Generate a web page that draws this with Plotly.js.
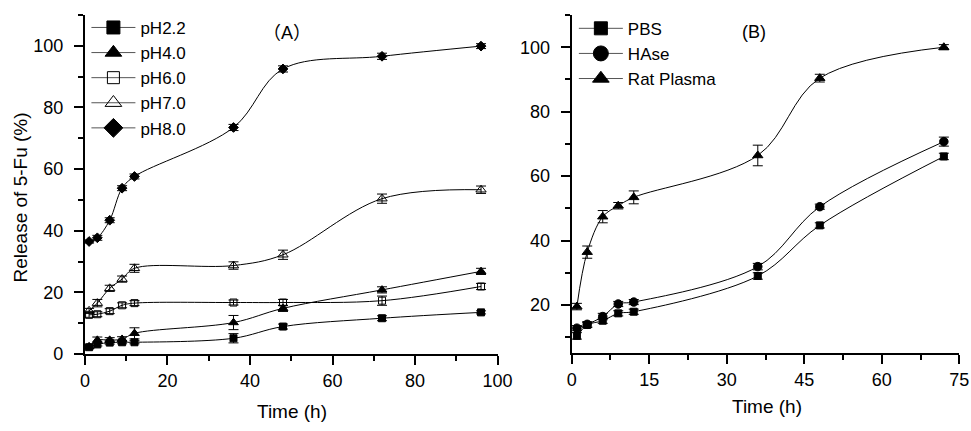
<!DOCTYPE html>
<html>
<head>
<meta charset="utf-8">
<script src="https://cdn.plot.ly/plotly-3.0.1.min.js"></script>
<style>html,body{margin:0;padding:0;background:#fff;}#chart{width:971px;height:431px;}</style>
</head>
<body>
<div id="chart"></div>
<script>
// ---------- Panel A data ----------
const timeA = [1, 3, 6, 9, 12, 36, 48, 72, 96];
const pH22 = [2.2, 3.1, 3.7, 3.8, 3.8, 5.1, 8.9, 11.6, 13.5];
const pH22Err = [0.5, 0.5, 0.5, 0.5, 0.5, 1.5, 0.8, 0.8, 0.5];
const pH40 = [2.4, 4.5, 4.5, 4.8, 6.7, 10.2, 14.8, 20.8, 26.8];
const pH40Err = [0.5, 1.0, 0.8, 0.8, 1.8, 2.3, 1.0, 1.0, 1.0];
const pH60 = [12.7, 12.9, 13.9, 15.8, 16.5, 16.7, 16.7, 17.3, 21.9];
const pH60Err = [0.8, 0.8, 0.8, 0.8, 0.8, 0.8, 1.0, 1.5, 1.0];
const pH70 = [14.0, 16.5, 21.3, 24.3, 27.8, 28.7, 32.2, 50.4, 53.3];
const pH70Err = [0.8, 1.2, 1.0, 1.0, 1.3, 1.2, 1.5, 1.5, 1.2];
const pH80 = [36.5, 37.7, 43.4, 53.8, 57.6, 73.5, 92.5, 96.6, 99.9];
const pH80Err = [0.5, 0.8, 0.8, 0.8, 0.8, 1.0, 1.0, 1.0, 0.8];

// ---------- Panel B data ----------
const timeB = [1, 3, 6, 9, 12, 36, 48, 72];
const pbs = [10.4, 13.8, 15.1, 17.4, 17.9, 29.0, 44.7, 66.1];
const pbsErr = [1.0, 0.8, 0.8, 0.8, 0.8, 1.0, 0.8, 1.0];
const hase = [12.8, 14.0, 16.4, 20.3, 20.9, 31.9, 50.5, 70.7];
const haseErr = [0.8, 0.8, 1.0, 0.8, 0.8, 1.0, 0.8, 1.4];
const ratPlasma = [19.5, 36.4, 47.4, 50.8, 53.4, 66.4, 90.4, 100.0];
const ratPlasmaErr = [1.0, 1.9, 1.9, 1.0, 2.0, 3.2, 1.2, 0.8];

// ---------- Tick labels ----------
const xTicksA = [0, 20, 40, 60, 80, 100];
const yTicksA = [0, 20, 40, 60, 80, 100];
const xTicksB = [0, 15, 30, 45, 60, 75];
const yTicksB = [20, 40, 60, 80, 100];

const FONT = 'Liberation Sans, Arial, Helvetica, sans-serif';

function series(x, y, err, name, symbol, size, xa, ya) {
  return {
    x: x, y: y, type: 'scatter', mode: 'lines+markers', name: name,
    xaxis: xa, yaxis: ya, showlegend: false, cliponaxis: false,
    line: {color: '#000', width: 1, shape: 'spline', smoothing: 1},
    marker: {symbol: symbol, size: size, color: '#000', line: {color: '#000', width: 1}},
    error_y: {type: 'data', array: err, visible: true, color: '#000', thickness: 1, width: 5}
  };
}
function legendItem(name, symbol, size, legend) {
  return {
    x: [null], y: [null], type: 'scatter', mode: 'lines+markers', name: name,
    legend: legend, showlegend: true,
    xaxis: legend === 'legend' ? 'x' : 'x2', yaxis: legend === 'legend' ? 'y' : 'y2',
    line: {color: '#555', width: 1},
    marker: {symbol: symbol, size: size, color: '#000', line: {color: '#000', width: 1}}
  };
}

const traces = [
  series(timeA, pH22, pH22Err, 'pH2.2', 'square', 7, 'x', 'y'),
  series(timeA, pH40, pH40Err, 'pH4.0', 'triangle-up', 8.5, 'x', 'y'),
  series(timeA, pH60, pH60Err, 'pH6.0', 'square-open', 7, 'x', 'y'),
  series(timeA, pH70, pH70Err, 'pH7.0', 'triangle-up-open', 9, 'x', 'y'),
  series(timeA, pH80, pH80Err, 'pH8.0', 'diamond', 7.5, 'x', 'y'),
  series(timeB, pbs, pbsErr, 'PBS', 'square', 7, 'x2', 'y2'),
  series(timeB, hase, haseErr, 'HAse', 'circle', 8.5, 'x2', 'y2'),
  series(timeB, ratPlasma, ratPlasmaErr, 'Rat Plasma', 'triangle-up', 9, 'x2', 'y2'),
  legendItem('pH2.2', 'square', 13, 'legend'),
  legendItem('pH4.0', 'triangle-up', 14.5, 'legend'),
  legendItem('pH6.0', 'square-open', 12, 'legend'),
  legendItem('pH7.0', 'triangle-up-open', 14.5, 'legend'),
  legendItem('pH8.0', 'diamond', 14.5, 'legend'),
  legendItem('PBS', 'square', 13, 'legend2'),
  legendItem('HAse', 'circle', 15, 'legend2'),
  legendItem('Rat Plasma', 'triangle-up', 14.5, 'legend2')
];

const axisCommon = {
  showgrid: false, zeroline: false, showline: true, linecolor: '#000', linewidth: 2,
  ticks: 'outside', ticklen: 9, tickwidth: 2, tickcolor: '#000',
  tickfont: {family: FONT, size: 18, color: '#000'},
  mirror: false, automargin: false, fixedrange: true
};

const layout = {
  width: 971, height: 431,
  margin: {l: 0, r: 0, t: 0, b: 0},
  paper_bgcolor: '#fff', plot_bgcolor: '#fff',
  font: {family: FONT, size: 18, color: '#000'},
  xaxis: Object.assign({}, axisCommon, {
    domain: [0.0875, 0.5124], range: [0, 100], anchor: 'y',
    tickmode: 'array', tickvals: xTicksA,
    minor: {dtick: 10, tick0: 0, ticks: 'outside', ticklen: 5, tickwidth: 2, tickcolor: '#000', showgrid: false}
  }),
  yaxis: Object.assign({}, axisCommon, {
    domain: [0.1787, 0.9652], range: [0, 110], anchor: 'x', ticklabelstandoff: 7,
    tickmode: 'array', tickvals: yTicksA,
    minor: {dtick: 10, tick0: 0, ticks: 'outside', ticklen: 5, tickwidth: 2, tickcolor: '#000', showgrid: false}
  }),
  xaxis2: Object.assign({}, axisCommon, {
    domain: [0.5888, 0.9880], range: [0, 75], anchor: 'y2',
    tickmode: 'array', tickvals: xTicksB,
    minor: {dtick: 7.5, tick0: 0, ticks: 'outside', ticklen: 5, tickwidth: 2, tickcolor: '#000', showgrid: false}
  }),
  yaxis2: Object.assign({}, axisCommon, {
    domain: [0.1803, 0.9652], range: [5, 110], anchor: 'x2', ticklabelstandoff: 7,
    tickmode: 'array', tickvals: yTicksB,
    minor: {dtick: 10, tick0: 0, ticks: 'outside', ticklen: 5, tickwidth: 2, tickcolor: '#000', showgrid: false}
  }),
  legend: {
    x: 0.089, y: 0.977, xanchor: 'left', yanchor: 'top', bgcolor: 'rgba(0,0,0,0)',
    font: {family: FONT, size: 17, color: '#000'}, itemwidth: 44, tracegroupgap: 0
  },
  legend2: {
    x: 0.591, y: 0.975, xanchor: 'left', yanchor: 'top', bgcolor: 'rgba(0,0,0,0)',
    font: {family: FONT, size: 17, color: '#000'}, itemwidth: 44, tracegroupgap: 0
  },
  annotations: [
    {text: 'Release of 5-Fu (%)', xref: 'paper', yref: 'paper', x: 0.0206, y: 0.5418,
     textangle: -90, showarrow: false, xanchor: 'center', yanchor: 'middle', font: {family: FONT, size: 19}},
    {text: 'Time (h)', xref: 'paper', yref: 'paper', x: 0.3004, y: 0.0448,
     showarrow: false, xanchor: 'center', yanchor: 'middle', font: {family: FONT, size: 19}},
    {text: 'Time (h)', xref: 'paper', yref: 'paper', x: 0.7896, y: 0.0557,
     showarrow: false, xanchor: 'center', yanchor: 'middle', font: {family: FONT, size: 19}},
    {text: '（A）', xref: 'paper', yref: 'paper', x: 0.2956, y: 0.9234,
     showarrow: false, xanchor: 'center', yanchor: 'middle', font: {family: FONT + ', Noto Sans CJK SC', size: 18}},
    {text: '(B)', xref: 'paper', yref: 'paper', x: 0.7765, y: 0.9258,
     showarrow: false, xanchor: 'center', yanchor: 'middle', font: {family: FONT, size: 18}}
  ]
};

Plotly.newPlot('chart', traces, layout, {displayModeBar: false, staticPlot: true});
</script>
</body>
</html>
